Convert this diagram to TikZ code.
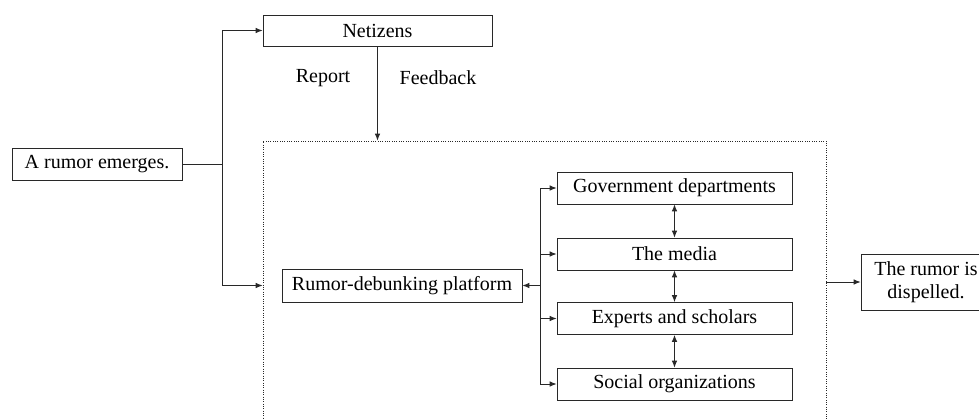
\documentclass[tikz,border=0pt]{standalone}
\usepackage{fontspec}
\setmainfont{Liberation Serif}
\usepackage{xcolor}
\usetikzlibrary{arrows.meta,positioning,calc}
\definecolor{cLine}{RGB}{40,40,40}

\begin{document}
\begin{tikzpicture}[x=0.6pt, y=-0.6pt,
  txt/.style={font=\fontsize{12}{13.5}\selectfont},
  box/.style={txt, draw=cLine, align=center, inner sep=1pt, minimum height=32*0.6pt},
  unit/.style={box, minimum width=235*0.6pt},
  arr/.style={-{Latex[length=1.5mm, width=1.2mm]}, draw=cLine, semithick},
  darr/.style={{Latex[length=1.5mm, width=1.2mm]}-{Latex[length=1.5mm, width=1.2mm]}, draw=cLine, semithick}]
\useasboundingbox (0,0) rectangle (979,418);
\clip (0,0) rectangle (979,418);
\node[draw=cLine, densely dotted, minimum width=563*0.6pt, minimum height=289*0.6pt] (frame) at (544.5,285.5) {};
\node[box, minimum width=229*0.6pt, minimum height=31*0.6pt] (net) at (377.5,30.5) {Netizens};
\node[box, minimum width=170*0.6pt] (emerge) at (97,164) {A rumor emerges.};
\node[box, minimum width=240*0.6pt, minimum height=33*0.6pt] (plat) at (402,285.5) {Rumor-debunking platform};
\node[unit] (gov) at (674.5,188) {Government departments};
\node[unit] (media) at (674.5,254) {The media};
\node[unit] (expert) at (674.5,318.5) {Experts and scholars};
\node[unit] (social) at (674.5,384) {Social organizations};
\node[box, minimum width=130*0.6pt, minimum height=56*0.6pt, inner sep=2pt] (dispel) at (926,282) {The rumor is\\dispelled.};
\node[txt] (report) at (323,78) {Report};
\node[txt] (feedback) at (438,78) {Feedback};
% connectors
\coordinate (split) at (222,164);
\coordinate (hub) at (540,285.5);
\draw[cLine, semithick] (emerge.east) -- (split);
\draw[arr] (split) |- (net.west);
\draw[arr] (split) |- (frame.west |- plat);
\draw[arr] (net.south) -- (net.south |- frame.north);
\draw[arr] (hub) -- (plat.east);
\foreach \n in {gov,media,expert,social}
  \draw[arr] (hub) |- (\n.west);
\draw[darr] (gov.south) -- (media.north);
\draw[darr] (media.south) -- (expert.north);
\draw[darr] (expert.south) -- (social.north);
\draw[arr] (frame.east |- dispel) -- (dispel.west);
\end{tikzpicture}
\end{document}
